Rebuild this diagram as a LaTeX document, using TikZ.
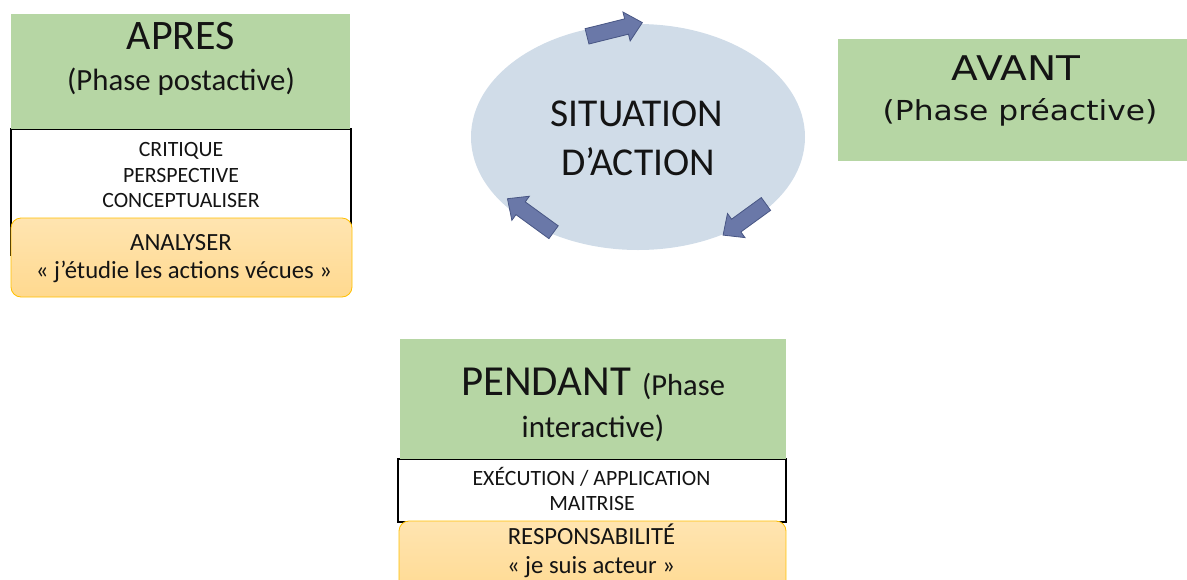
\documentclass[tikz,border=0pt]{standalone}
\usepackage{fontspec}
\setmainfont{Carlito}
\newfontfamily\avfont{DejaVu Sans}
\usetikzlibrary{shapes.arrows,shapes.geometric}
\definecolor{phasegreen}{RGB}{182,214,164}
\definecolor{orfill}{RGB}{255,217,143}
\definecolor{orline}{RGB}{255,192,0}
\definecolor{ellfill}{RGB}{208,220,232}
\definecolor{arrfill}{RGB}{106,120,168}
\definecolor{arrline}{RGB}{72,86,132}
\begin{document}
\begin{tikzpicture}[x=1pt,y=-1pt,
  greenbox/.style={fill=phasegreen, draw=none, inner sep=0pt},
  whitebox/.style={fill=white, draw=black, line width=1.2pt, inner sep=0pt},
  orangebox/.style={top color=orfill!70!white, bottom color=orfill, draw=orline, line width=0.8pt, rounded corners=10pt, inner sep=0pt},
  txt/.style={anchor=base, inner sep=0pt, text=black!92},
  cyc/.style={single arrow, fill=arrfill, draw=arrline, line width=0.8pt, inner sep=7.5pt, single arrow head extend=7pt, single arrow tip angle=85}
]
\useasboundingbox (0,0) rectangle (1187,579);
% APRES
\node[whitebox, minimum width=340pt, minimum height=126pt] (apresw) at (181,192) {};
\node[greenbox, minimum width=339pt, minimum height=115pt] (apresg) at (180.5,71.5) {};
\node[orangebox, minimum width=341pt, minimum height=79pt] (apreso) at (181.5,257.5) {};
\node[txt, font=\fontsize{42}{42}\selectfont] (t1) at (181,49) {APRES};
\node[txt, font=\fontsize{30.8}{30.8}\selectfont] (t2) at (181,90) {(Phase postactive)};
\node[txt, font=\fontsize{21.8}{21.8}\selectfont] (t3) at (181,156) {CRITIQUE};
\node[txt, font=\fontsize{21.8}{21.8}\selectfont] (t4) at (181,182) {PERSPECTIVE};
\node[txt, font=\fontsize{21.8}{21.8}\selectfont] (t5) at (181,207) {CONCEPTUALISER};
\node[txt, font=\fontsize{24.7}{24.7}\selectfont] (t6) at (181,250) {ANALYSER};
\node[txt, font=\fontsize{24.7}{24.7}\selectfont] (t7) at (184,278) {« j’étudie les actions vécues »};
% ellipse
\node[ellipse, fill=ellfill, draw=none, minimum width=334pt, minimum height=226pt, inner sep=0pt] (sit) at (638,137) {};
\node[txt, font=\fontsize{39.5}{39.5}\selectfont] (s1) at (637,126) {SITUATION};
\node[txt, font=\fontsize{39.5}{39.5}\selectfont] (s2) at (638,175) {D’ACTION};
\node[cyc, minimum height=57pt, rotate=14] (a1) at (610.5,30.5) {};
\node[cyc, minimum height=53pt, rotate=216] (a2) at (748,217) {};
\node[cyc, minimum height=57pt, rotate=144] (a3) at (534,218) {};
% AVANT
\node[greenbox, minimum width=349pt, minimum height=122pt] (avg) at (1012.5,100) {};
\node[txt, font=\avfont\fontsize{34}{34}\selectfont] (v1) at (1016,80) {\scalebox{1.15}[1]{AVANT}};
\node[txt, font=\avfont\fontsize{27.5}{27.5}\selectfont] (v2) at (1020,120) {\scalebox{1.14}[1]{(Phase préactive)}};
% PENDANT
\node[whitebox, minimum width=388pt, minimum height=63pt] (penw) at (592,490.5) {};
\node[greenbox, minimum width=386pt, minimum height=120pt] (peng) at (593,399) {};
\node[orangebox, minimum width=387pt, minimum height=80pt] (peno) at (592.5,561) {};
\node[txt, font=\fontsize{42.8}{42.8}\selectfont, anchor=base west] (p1) at (461,395) {PENDANT};
\node[txt, font=\fontsize{30.5}{30.5}\selectfont, anchor=base west] (p2) at (642,395) {(Phase};
\node[txt, font=\fontsize{31}{31}\selectfont] (p3) at (593,437) {interactive)};
\node[txt, font=\fontsize{21.8}{21.8}\selectfont] (p4) at (591.5,485) {EXÉCUTION / APPLICATION};
\node[txt, font=\fontsize{21.8}{21.8}\selectfont] (p5) at (592,510) {MAITRISE};
\node[txt, font=\fontsize{24.7}{24.7}\selectfont] (p6) at (591.5,544) {RESPONSABILITÉ};
\node[txt, font=\fontsize{24.7}{24.7}\selectfont] (p7) at (591,573) {« je suis acteur »};
\end{tikzpicture}
\end{document}
